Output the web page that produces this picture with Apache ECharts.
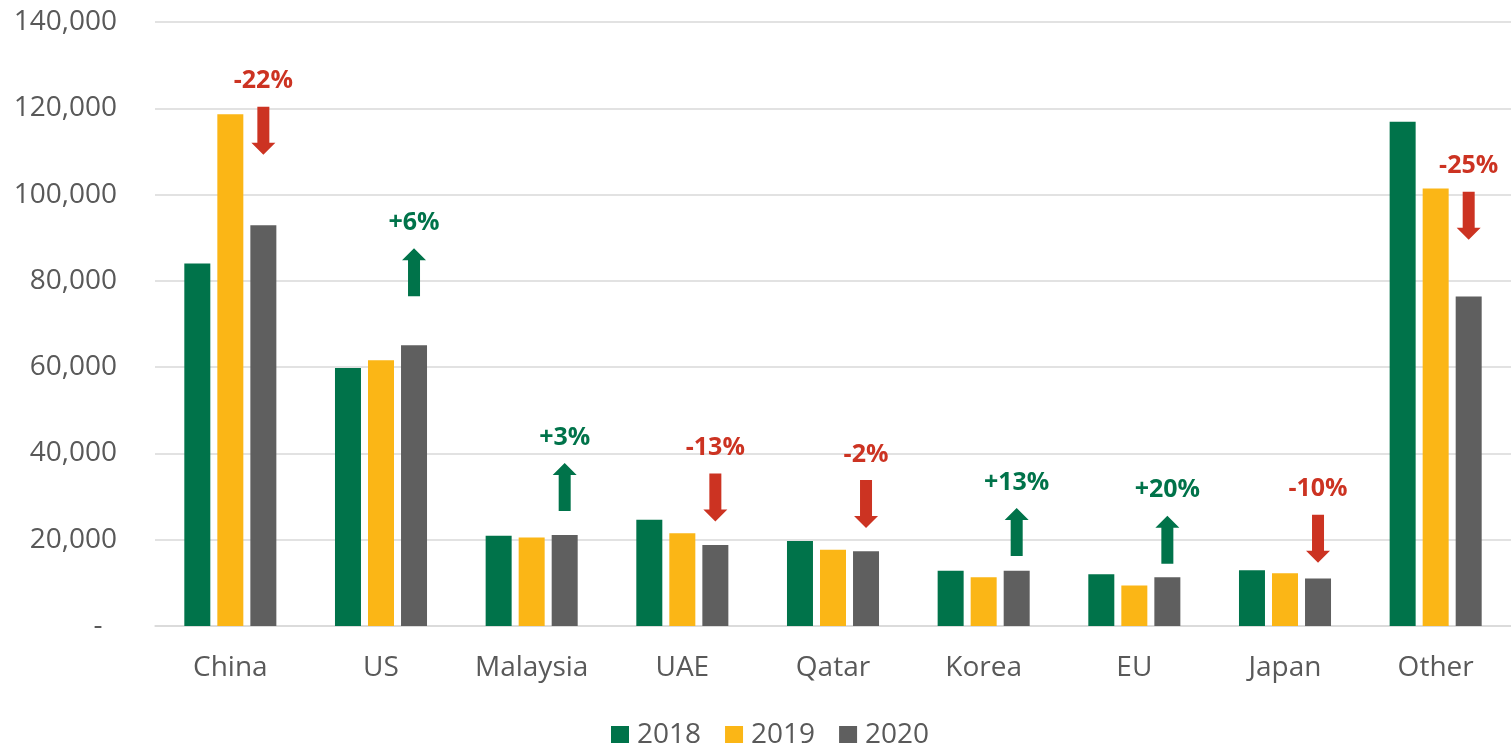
<!DOCTYPE html>
<html>
<head>
<meta charset="utf-8">
<script src="https://cdn.jsdelivr.net/npm/echarts@6/dist/echarts.min.js"></script>
<style>
  html, body { margin: 0; padding: 0; background: #fff; }
  #chart { width: 1511px; height: 743px; }
</style>
</head>
<body>
<div id="chart"></div>
<script>
const categories = ['China', 'US', 'Malaysia', 'UAE', 'Qatar', 'Korea', 'EU', 'Japan', 'Other']
const years = ['2018', '2019', '2020']
const values2018 = [84000, 59800, 20900, 24600, 19700, 12800, 12000, 12900, 116900]
const values2019 = [118600, 61600, 20500, 21500, 17700, 11300, 9400, 12200, 101400]
const values2020 = [92900, 65100, 21100, 18800, 17300, 12800, 11300, 11000, 76400]
// change labels over the 2020 bars and the level (in axis units) where each arrow sits
const changeLabels = ['-22%', '+6%', '+3%', '-13%', '-2%', '+13%', '+20%', '-10%', '-25%']
const arrowLevels = [114800, 82000, 32200, 29800, 28300, 21800, 20000, 20200, 95100]
const yTicks = { min: 0, max: 140000, interval: 20000 }

const green = '#00734a'
const yellow = '#fbb616'
const grey = '#5f5f5f'
const red = '#cc3322'
const textGrey = '#595959'
const font = '"Open Sans", "Noto Sans", sans-serif'

const arrowDown = 'path://M6,0L18,0L18,36L24,36L12,48L0,36L6,36Z'
const arrowUp = 'path://M12,0L24,12L18,12L18,48L6,48L6,12L0,12Z'

let markData = []
changeLabels.forEach((txt, i) => {
  let up = txt.charAt(0) === '+'
  let c = up ? green : red
  markData.push({
    coord: [categories[i], arrowLevels[i]],
    value: txt,
    symbol: up ? arrowUp : arrowDown,
    itemStyle: { color: c },
    label: { color: c }
  })
})

let myChart = echarts.init(document.getElementById('chart'))

const option = {
  animation: false,
  textStyle: { fontFamily: font },
  grid: {
    left: 155,
    right: 0,
    top: 22,
    bottom: 117,
    containLabel: false
  },
  legend: {
    data: years,
    left: 606,
    top: 716,
    icon: 'rect',
    itemWidth: 18,
    itemHeight: 18,
    itemGap: 24,
    textStyle: { fontSize: 28, color: textGrey, fontFamily: font, padding: [0, 0, 0, 3] }
  },
  xAxis: {
    type: 'category',
    data: categories,
    axisTick: { show: false },
    axisLine: { show: true, lineStyle: { color: '#d9d9d9', width: 1.5 } },
    axisLabel: {
      margin: 28,
      fontSize: 28,
      color: textGrey,
      fontFamily: font
    }
  },
  yAxis: {
    type: 'value',
    min: yTicks.min,
    max: yTicks.max,
    interval: yTicks.interval,
    axisLine: { show: false },
    axisTick: { show: false },
    splitLine: { lineStyle: { color: '#d9d9d9', width: 1.5 } },
    axisLabel: {
      margin: 38,
      fontSize: 28,
      color: textGrey,
      fontFamily: font,
      formatter: function (v) {
        if (v === 0) return '-  '
        return v.toLocaleString('en-US')
      }
    }
  },
  series: [
    {
      name: '2018',
      type: 'bar',
      barWidth: 26,
      barGap: '27%',
      itemStyle: { color: green },
      data: values2018
    },
    {
      name: '2019',
      type: 'bar',
      barWidth: 26,
      barGap: '27%',
      itemStyle: { color: yellow },
      data: values2019
    },
    {
      name: '2020',
      type: 'bar',
      barWidth: 26,
      barGap: '27%',
      itemStyle: { color: grey },
      data: values2020,
      markPoint: {
        symbolSize: [24, 48],
        symbolKeepAspect: false,
        label: {
          show: true,
          position: 'top',
          distance: 13,
          fontSize: 25,
          fontWeight: 'bold',
          fontFamily: font,
          formatter: function (p) { return p.value }
        },
        data: markData
      }
    }
  ]
}

myChart.setOption(option)
</script>
</body>
</html>
